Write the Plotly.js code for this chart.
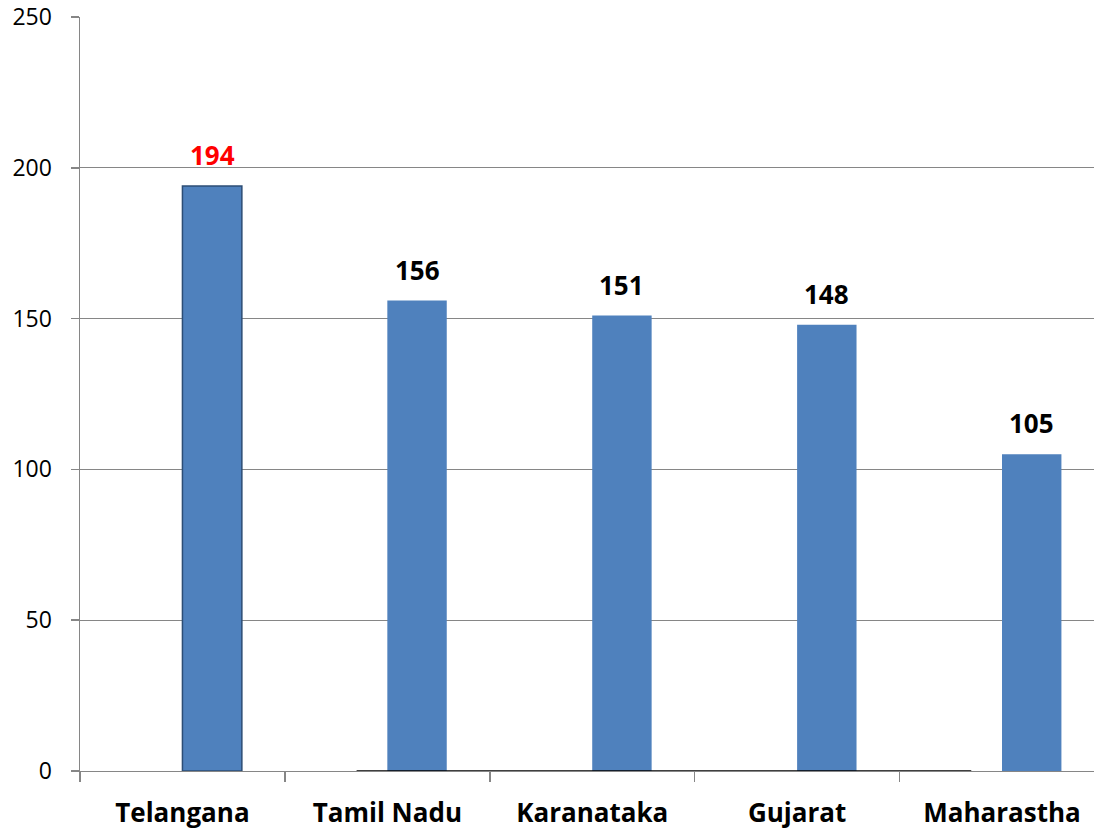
<!DOCTYPE html>
<html>
<head>
<meta charset="utf-8">
<script src="https://cdn.plot.ly/plotly-3.0.1.min.js"></script>
<style>html,body{margin:0;padding:0;background:#fff;}#chart{width:1094px;height:831px;}</style>
</head>
<body>
<div id="chart"></div>
<script>
var states = ["Telangana", "Tamil Nadu", "Karanataka", "Gujarat", "Maharastha"];
var counts = [194, 156, 151, 148, 105];
var labelColors = ["#ff0000", "#000000", "#000000", "#000000", "#000000"];
var yTicks = [0, 50, 100, 150, 200, 250];

var barWidth = 0.29;

var trace = {
  type: "bar",
  x: states,
  y: counts,
  width: barWidth,
  offset: 0,
  marker: {
    color: "#4f81bd",
    line: { color: "#2c4d75", width: [1.5, 0, 0, 0, 0] }
  },
  hoverinfo: "x+y"
};

var annotations = states.map(function (s, i) {
  return {
    x: i + barWidth / 2,
    y: counts[i],
    xref: "x",
    yref: "y",
    text: "<b>" + counts[i] + "</b>",
    showarrow: false,
    yanchor: "bottom",
    xanchor: "center",
    yshift: 11,
    font: { family: "Open Sans, sans-serif", size: 26, color: labelColors[i] }
  };
});

var layout = {
  width: 1094,
  height: 831,
  margin: { l: 80, r: 0, t: 17, b: 60 },
  paper_bgcolor: "#ffffff",
  plot_bgcolor: "#ffffff",
  showlegend: false,
  bargap: 0,
  xaxis: {
    type: "category",
    range: [-0.5, 4.449],
    showline: true,
    linecolor: "#868686",
    linewidth: 1,
    ticks: "outside",
    tickson: "boundaries",
    ticklen: 10,
    tickcolor: "#868686",
    tickwidth: 1.5,
    showgrid: false,
    ticklabelstandoff: 19,
    tickfont: { family: "Open Sans, sans-serif", size: 26, color: "#000000", weight: "bold" }
  },
  yaxis: {
    range: [0, 250],
    tickvals: yTicks,
    ticktext: yTicks.map(String),
    showline: true,
    linecolor: "#868686",
    linewidth: 1.5,
    ticks: "outside",
    ticklen: 8,
    tickcolor: "#868686",
    tickwidth: 1.5,
    showgrid: true,
    gridcolor: "#868686",
    gridwidth: 1,
    zeroline: false,
    ticklabelstandoff: 14,
    tickfont: { family: "Open Sans, sans-serif", size: 23, color: "#000000" }
  },
  shapes: [{
    type: "line",
    xref: "x",
    yref: "y",
    x0: 0.85,
    x1: 3.85,
    y0: 0,
    y1: 0,
    line: { color: "#000000", width: 1.5 },
    layer: "above"
  }],
  annotations: annotations
};

Plotly.newPlot("chart", [trace], layout, { displayModeBar: false, staticPlot: true });
</script>
</body>
</html>
